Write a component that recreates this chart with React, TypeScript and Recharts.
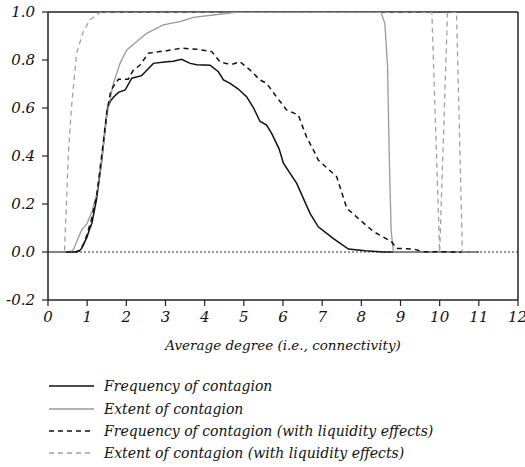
import React from 'react';
import { LineChart, Line, XAxis, YAxis, ReferenceLine } from 'recharts';

// Frequency of contagion (solid black)
const freqX = [0, 0.7, 0.8, 0.86, 0.93, 0.99, 1.05, 1.12, 1.24, 1.37, 1.45, 1.52, 1.6, 1.67, 1.8, 1.97, 2.14, 2.39, 2.48, 2.69, 3.03, 3.2, 3.41, 3.63, 3.8, 4.14, 4.35, 4.48, 4.65, 4.85, 5.07, 5.25, 5.41, 5.58, 5.71, 5.9, 6.01, 6.35, 6.69, 6.9, 7.28, 7.67, 8.1, 8.56, 11];
const freqY = [0, 0, 0.005, 0.015, 0.04, 0.06, 0.09, 0.12, 0.22, 0.38, 0.5, 0.6, 0.63, 0.645, 0.665, 0.675, 0.724, 0.735, 0.75, 0.786, 0.793, 0.795, 0.803, 0.786, 0.78, 0.778, 0.751, 0.717, 0.703, 0.68, 0.647, 0.6, 0.545, 0.529, 0.494, 0.43, 0.37, 0.286, 0.161, 0.105, 0.057, 0.0125, 0.005, 0, 0];

// Extent of contagion (solid gray)
const extX = [0, 0.55, 0.65, 0.75, 0.86, 0.99, 1.12, 1.24, 1.37, 1.5, 1.58, 1.67, 1.84, 2.01, 2.26, 2.52, 2.94, 3.37, 3.71, 4.22, 4.73, 5.0, 8.5, 8.6, 8.67, 8.71, 8.76, 8.82, 11];
const extY = [0, 0, 0.01, 0.05, 0.092, 0.117, 0.168, 0.24, 0.38, 0.57, 0.633, 0.703, 0.786, 0.842, 0.876, 0.911, 0.946, 0.96, 0.978, 0.9875, 0.997, 1.0, 1.0, 0.953, 0.772, 0.42, 0.092, 0, 0];

// Frequency of contagion with liquidity effects (dashed black)
const freqLiqX = [0, 0.7, 0.8, 0.9, 0.99, 1.1, 1.24, 1.37, 1.5, 1.6, 1.67, 1.8, 2.05, 2.18, 2.35, 2.56, 3.03, 3.41, 3.8, 4.18, 4.39, 4.55, 4.73, 4.9, 5.16, 5.41, 5.58, 5.8, 6.09, 6.39, 6.6, 6.82, 6.9, 7.37, 7.63, 7.97, 8.31, 8.77, 8.9, 9.33, 9.58, 11];
const freqLiqY = [0, 0, 0.005, 0.03, 0.07, 0.13, 0.23, 0.4, 0.58, 0.67, 0.69, 0.72, 0.72, 0.758, 0.779, 0.828, 0.839, 0.849, 0.845, 0.835, 0.793, 0.785, 0.783, 0.793, 0.758, 0.717, 0.703, 0.654, 0.592, 0.571, 0.48, 0.411, 0.383, 0.314, 0.182, 0.133, 0.085, 0.043, 0.015, 0.0125, 0.001, 0];

// Extent of contagion with liquidity effects (dashed gray)
const extLiqX = [0, 0.42, 0.47, 0.52, 0.6, 0.73, 0.9, 1.07, 1.24, 1.35, 9.8, 10.0, 10.2, 10.43, 10.58, 11];
const extLiqY = [0, 0, 0.2, 0.41, 0.605, 0.828, 0.918, 0.967, 0.9875, 1.0, 1.0, 0, 1.0, 1.0, 0, 0];

const xTicks = [0, 1, 2, 3, 4, 5, 6, 7, 8, 9, 10, 11, 12];
const yTicks = [-0.2, 0, 0.2, 0.4, 0.6, 0.8, 1.0];

const legendLabels = [
  'Frequency of contagion',
  'Extent of contagion',
  'Frequency of contagion (with liquidity effects)',
  'Extent of contagion (with liquidity effects)',
];
const xTitle = 'Average degree (i.e., connectivity)';

const zip = (xs: number[], ys: number[]) => xs.map((x, i) => ({ x, y: ys[i] }));

const styles = [
  { stroke: '#111', dash: undefined as string | undefined, width: 1.5 },
  { stroke: '#9a9a9a', dash: undefined as string | undefined, width: 1.3 },
  { stroke: '#111', dash: '5 4', width: 1.5 },
  { stroke: '#a0a0a0', dash: '5 4', width: 1.3 },
];

const series = [zip(freqX, freqY), zip(extX, extY), zip(freqLiqX, freqLiqY), zip(extLiqX, extLiqY)];

const font = { fontFamily: '"DejaVu Serif", serif', fontStyle: 'italic' as const };

const LegendBlock = () => (
  <div style={{ ...font, fontSize: 14, color: '#111', position: 'absolute', left: 48, top: 375 }}>
    {legendLabels.map((lab, i) => (
      <div key={lab} style={{ display: 'flex', alignItems: 'center', height: 22.4 }}>
        <svg width={56} height={10} style={{ display: 'block' }}>
          <line x1={1} x2={46} y1={5} y2={5} stroke={styles[i].stroke} strokeWidth={styles[i].width} strokeDasharray={styles[i].dash} />
        </svg>
        <span style={{ whiteSpace: 'nowrap' }}>{lab}</span>
      </div>
    ))}
  </div>
);

export default function App() {
  return (
    <div style={{ position: 'absolute', left: 0, top: 0, width: 525, height: 467, background: '#fff' }}>
      <LineChart width={525} height={467} margin={{ top: 12, right: 7, bottom: 137, left: 0 }}>
        <XAxis
          type="number"
          dataKey="x"
          domain={[0, 12]}
          ticks={xTicks}
          allowDataOverflow
          axisLine={{ stroke: '#222', strokeWidth: 1.5 }}
          tickLine={{ stroke: '#222', strokeWidth: 1.2 }}
          tickSize={6}
          tickMargin={5}
          height={30}
          tick={{ ...font, fontSize: 15, fill: '#111' }}
          label={{ value: xTitle, position: 'bottom', offset: 10, style: { ...font, fontSize: 13.5, fill: '#111' } }}
        />
        <YAxis
          type="number"
          dataKey="y"
          domain={[-0.2, 1]}
          ticks={yTicks}
          allowDataOverflow
          width={48}
          axisLine={{ stroke: '#222', strokeWidth: 1.5 }}
          tickLine={{ stroke: '#222', strokeWidth: 1.2 }}
          tickSize={6}
          tickMargin={7}
          tickFormatter={(v: number) => v.toFixed(1)}
          tick={{ ...font, fontSize: 15, fill: '#111' }}
        />
        <ReferenceLine y={0} stroke="#333" strokeWidth={1.2} strokeDasharray="2 2" />
        <ReferenceLine y={1} stroke="#222" strokeWidth={1.5} />
        <ReferenceLine x={12} stroke="#222" strokeWidth={1.5} />
        {series.map((d, i) => (
          <Line
            key={i}
            data={d}
            dataKey="y"
            type="linear"
            stroke={styles[i].stroke}
            strokeWidth={styles[i].width}
            strokeDasharray={styles[i].dash}
            dot={false}
            activeDot={false}
            isAnimationActive={false}
            name={legendLabels[i]}
          />
        ))}
      </LineChart>
      <LegendBlock />
    </div>
  );
}
